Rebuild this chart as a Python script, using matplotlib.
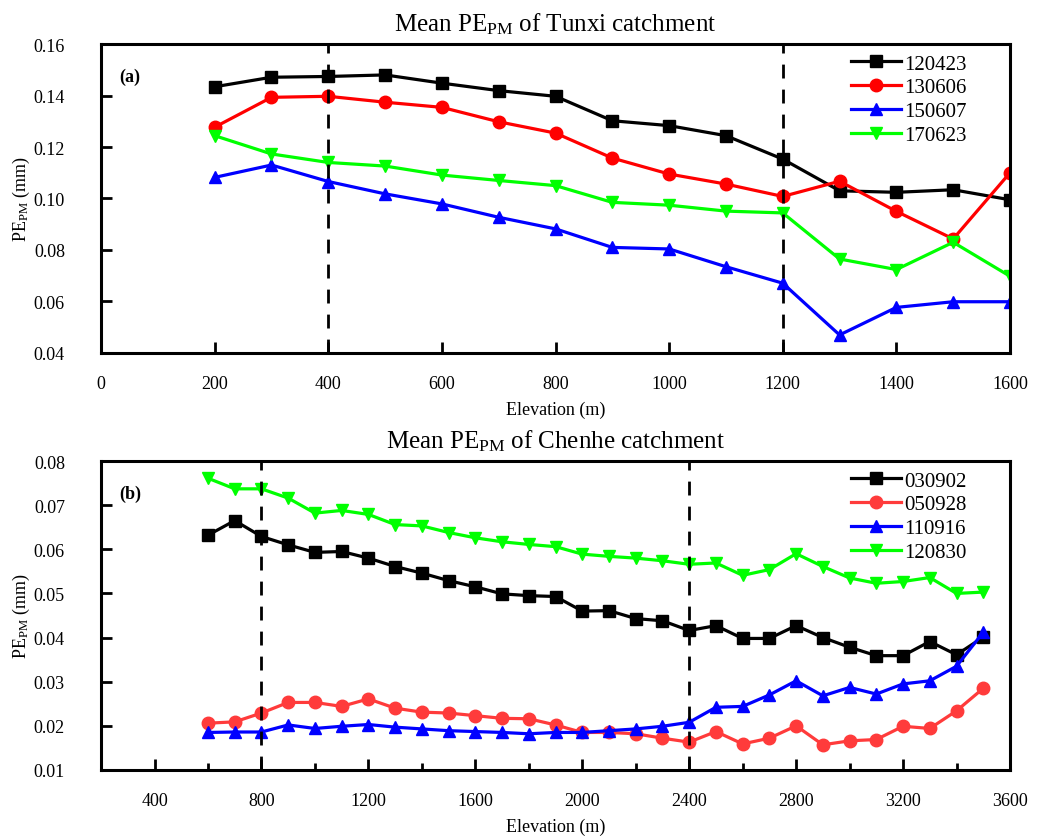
import matplotlib
matplotlib.use("Agg")
import matplotlib.pyplot as plt
from matplotlib.ticker import MultipleLocator, FormatStrFormatter

plt.rcParams['font.family'] = ['Liberation Serif', 'DejaVu Serif']
plt.rcParams['mathtext.fontset'] = 'custom'
plt.rcParams['mathtext.rm'] = 'Liberation Serif'
plt.rcParams['mathtext.it'] = 'Liberation Serif:italic'

# Tunxi catchment (panel a)
elev_a = [200, 300, 400, 500, 600, 700, 800, 900, 1000, 1100, 1200, 1300, 1400, 1500, 1600]
tunxi_120423 = [0.1434, 0.1471, 0.1474, 0.1480, 0.1448, 0.1419, 0.1397, 0.1302, 0.1283,
                0.1244, 0.1153, 0.1030, 0.1024, 0.1034, 0.0995]
tunxi_130606 = [0.1277, 0.1393, 0.1397, 0.1374, 0.1354, 0.1298, 0.1254, 0.1157, 0.1095,
                0.1056, 0.1008, 0.1067, 0.0950, 0.0843, 0.1100]
tunxi_150607 = [0.1082, 0.1130, 0.1066, 0.1018, 0.0979, 0.0927, 0.0882, 0.0810, 0.0804,
                0.0735, 0.0671, 0.0470, 0.0577, 0.0599, 0.0599]
tunxi_170623 = [0.1244, 0.1173, 0.1140, 0.1126, 0.1091, 0.1070, 0.1050, 0.0985, 0.0974,
                0.0951, 0.0944, 0.0765, 0.0724, 0.0830, 0.0698]
labels_a = ["120423", "130606", "150607", "170623"]

# Chenhe catchment (panel b)
elev_b = [600, 700, 800, 900, 1000, 1100, 1200, 1300, 1400, 1500, 1600, 1700, 1800, 1900, 2000,
          2100, 2200, 2300, 2400, 2500, 2600, 2700, 2800, 2900, 3000, 3100, 3200, 3300, 3400, 3500]
chenhe_030902 = [0.0632, 0.0665, 0.0629, 0.0610, 0.0593, 0.0595, 0.0580, 0.0561, 0.0546, 0.0529,
                 0.0515, 0.0499, 0.0495, 0.0493, 0.0460, 0.0461, 0.0443, 0.0438, 0.0416, 0.0427,
                 0.0398, 0.0398, 0.0427, 0.0400, 0.0378, 0.0359, 0.0359, 0.0391, 0.0361, 0.0401]
chenhe_050928 = [0.0206, 0.0209, 0.0229, 0.0253, 0.0253, 0.0244, 0.0261, 0.0240, 0.0231, 0.0229,
                 0.0223, 0.0217, 0.0216, 0.0202, 0.0185, 0.0185, 0.0182, 0.0172, 0.0163, 0.0187,
                 0.0159, 0.0172, 0.0200, 0.0157, 0.0166, 0.0169, 0.0199, 0.0194, 0.0234, 0.0285]
chenhe_110916 = [0.0185, 0.0186, 0.0186, 0.0202, 0.0194, 0.0199, 0.0203, 0.0197, 0.0193, 0.0189,
                 0.0187, 0.0185, 0.0182, 0.0185, 0.0185, 0.0189, 0.0193, 0.0199, 0.0208, 0.0242,
                 0.0244, 0.0270, 0.0302, 0.0268, 0.0287, 0.0272, 0.0295, 0.0302, 0.0335, 0.0412]
chenhe_120830 = [0.0761, 0.0737, 0.0737, 0.0716, 0.0682, 0.0688, 0.0679, 0.0656, 0.0653, 0.0638,
                 0.0626, 0.0617, 0.0611, 0.0606, 0.0589, 0.0584, 0.0580, 0.0574, 0.0566, 0.0569,
                 0.0541, 0.0554, 0.0590, 0.0561, 0.0535, 0.0523, 0.0527, 0.0536, 0.0500, 0.0503]
labels_b = ["030902", "050928", "110916", "120830"]

colors = ["black", "red", "blue", "#00ff00"]
markers = ["s", "o", "^", "v"]


def draw_panel(ax, x, series, labels, title, tag, vlines, red_color="red"):
    for i, y in enumerate(series):
        c = colors[i] if i != 1 else red_color
        ax.plot(x, y, color=c, marker=markers[i], markersize=9, linewidth=2.3,
                markeredgecolor=c, label=labels[i])
    for v in vlines:
        ax.axvline(v, color="black", linestyle=(0, (5, 4)), linewidth=2)
    ax.set_title(title, fontsize=18, pad=10)
    ax.set_xlabel("Elevation (m)", fontsize=13, labelpad=6)
    ax.set_ylabel(r"PE$_{\mathrm{PM}}$ (mm)", fontsize=13, labelpad=1)
    ax.text(0.02, 0.88, tag, transform=ax.transAxes, fontsize=13, fontweight="bold")
    ax.legend(loc="upper right", bbox_to_anchor=(0.968, 1.015), frameon=False, fontsize=15,
              handlelength=2.4, handletextpad=0.15, labelspacing=0.2, borderaxespad=0.3)
    for s in ax.spines.values():
        s.set_linewidth(2.2)
    ax.tick_params(axis="x", pad=16)
    ax.tick_params(axis="y", pad=26)
    ax.tick_params(direction="in", length=8, width=2, labelsize=13, top=False, right=False)
    ax.tick_params(which="minor", direction="in", length=5, width=2)
    ax.yaxis.set_major_formatter(FormatStrFormatter("%.2f"))


fig = plt.figure(figsize=(10.45, 8.37), dpi=100)
ax1 = fig.add_axes([0.0967, 0.5771, 0.8698, 0.3691])
ax2 = fig.add_axes([0.0967, 0.0789, 0.8698, 0.3691])

draw_panel(ax1, elev_a, [tunxi_120423, tunxi_130606, tunxi_150607, tunxi_170623], labels_a,
           r"Mean PE$_{\mathrm{PM}}$ of Tunxi catchment", "(a)", [400, 1200])
ax1.set_xlim(0, 1600)
ax1.set_ylim(0.04, 0.16)
ax1.xaxis.set_major_locator(MultipleLocator(200))
ax1.yaxis.set_major_locator(MultipleLocator(0.02))

draw_panel(ax2, elev_b, [chenhe_030902, chenhe_050928, chenhe_110916, chenhe_120830], labels_b,
           r"Mean PE$_{\mathrm{PM}}$ of Chenhe catchment", "(b)", [800, 2400],
           red_color="#ff3b3b")
ax2.set_xlim(200, 3600)
ax2.set_ylim(0.01, 0.08)
ax2.xaxis.set_major_locator(MultipleLocator(400))
ax2.xaxis.set_minor_locator(MultipleLocator(200))
ax2.yaxis.set_major_locator(MultipleLocator(0.01))

fig.savefig("out.png", dpi=100)
